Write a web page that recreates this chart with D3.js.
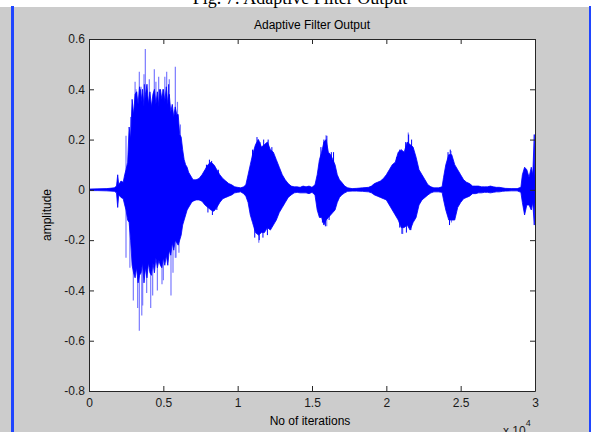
<!DOCTYPE html>
<html>
<head>
<meta charset="utf-8">
<script src="https://cdn.jsdelivr.net/npm/d3@7"></script>
<style>
  html, body { margin: 0; padding: 0; background: #cccccc; }
  svg { display: block; }
  text { font-family: "Liberation Sans", Arial, sans-serif; }
</style>
</head>
<body>
<svg id="chart" width="591" height="432"></svg>
<script>
// Envelope of the adaptive filter output: iteration, upper peak, lower peak
const envIter = [0, 600, 1200, 1700, 1850, 1930, 2000, 2150, 2300, 2400, 2490, 2600, 2700, 2800, 2900, 3000, 3100, 3200, 3300, 3400, 3500, 3600, 3700, 3800, 3900, 4000, 4100, 4200, 4300, 4400, 4500, 4600, 4700, 4800, 4900, 5000, 5100, 5200, 5300, 5400, 5500, 5600, 5700, 5800, 5900, 6000, 6100, 6200, 6300, 6400, 6500, 6600, 6700, 6800, 6900, 7000, 7200, 7400, 7600, 7800, 8000, 8200, 8400, 8600, 8800, 9000, 9200, 9400, 9600, 9800, 10000, 10200, 10400, 10550, 10700, 10850, 11000, 11200, 11400, 11600, 11800, 12000, 12200, 12400, 12600, 12800, 13000, 13200, 13400, 13600, 13800, 14000, 14200, 14400, 14600, 14800, 15000, 15200, 15350, 15500, 15650, 15800, 15950, 16100, 16250, 16400, 16550, 16700, 16850, 17000, 17200, 17400, 17700, 18000, 18400, 18800, 19000, 19200, 19400, 19600, 19800, 20000, 20200, 20400, 20600, 20800, 21000, 21200, 21400, 21600, 21800, 22000, 22200, 22400, 22600, 22800, 23000, 23200, 23500, 23750, 23850, 24000, 24200, 24400, 24600, 24800, 25000, 25200, 25400, 25600, 25800, 26000, 26200, 26400, 26600, 26800, 27000, 27200, 27400, 27600, 27800, 28000, 28400, 28800, 29050, 29150, 29300, 29450, 29600, 29750, 29850, 29950, 30000];
const envHi = [0.003, 0.004, 0.005, 0.008, 0.015, 0.06, 0.02, 0.035, 0.03, 0.06, 0.08, 0.11, 0.25, 0.2, 0.36, 0.30, 0.38, 0.39, 0.34, 0.41, 0.35, 0.40, 0.33, 0.38, 0.42, 0.34, 0.39, 0.33, 0.38, 0.40, 0.34, 0.39, 0.33, 0.40, 0.36, 0.40, 0.35, 0.41, 0.34, 0.38, 0.31, 0.34, 0.29, 0.33, 0.30, 0.30, 0.22, 0.21, 0.16, 0.12, 0.10, 0.09, 0.07, 0.06, 0.05, 0.04, 0.04, 0.045, 0.06, 0.08, 0.10, 0.11, 0.10, 0.08, 0.06, 0.045, 0.035, 0.025, 0.02, 0.012, 0.01, 0.008, 0.012, 0.02, 0.06, 0.10, 0.14, 0.18, 0.20, 0.17, 0.18, 0.19, 0.16, 0.15, 0.12, 0.09, 0.06, 0.04, 0.025, 0.015, 0.012, 0.012, 0.01, 0.015, 0.012, 0.015, 0.01, 0.02, 0.06, 0.12, 0.15, 0.19, 0.20, 0.15, 0.14, 0.12, 0.10, 0.06, 0.04, 0.03, 0.015, 0.008, 0.005, 0.006, 0.008, 0.01, 0.015, 0.025, 0.03, 0.035, 0.045, 0.06, 0.08, 0.10, 0.11, 0.15, 0.16, 0.15, 0.19, 0.18, 0.17, 0.13, 0.08, 0.06, 0.04, 0.02, 0.012, 0.008, 0.008, 0.012, 0.05, 0.10, 0.14, 0.14, 0.10, 0.08, 0.06, 0.04, 0.03, 0.025, 0.015, 0.015, 0.015, 0.012, 0.012, 0.012, 0.015, 0.012, 0.01, 0.01, 0.008, 0.006, 0.005, 0.005, 0.01, 0.06, 0.09, 0.08, 0.05, 0.09, 0.06, 0.22, 0.05];
const envLo = [-0.003, -0.003, -0.004, -0.006, -0.012, -0.07, -0.02, -0.03, -0.035, -0.06, -0.08, -0.12, -0.13, -0.2, -0.3, -0.33, -0.35, -0.31, -0.37, -0.34, -0.33, -0.29, -0.37, -0.31, -0.35, -0.29, -0.33, -0.34, -0.29, -0.33, -0.27, -0.31, -0.28, -0.30, -0.31, -0.27, -0.30, -0.26, -0.30, -0.24, -0.26, -0.21, -0.24, -0.20, -0.21, -0.22, -0.20, -0.18, -0.14, -0.12, -0.10, -0.08, -0.07, -0.06, -0.05, -0.045, -0.04, -0.04, -0.045, -0.06, -0.07, -0.08, -0.085, -0.07, -0.05, -0.035, -0.03, -0.025, -0.02, -0.012, -0.01, -0.008, -0.015, -0.025, -0.05, -0.10, -0.13, -0.17, -0.18, -0.17, -0.17, -0.15, -0.16, -0.14, -0.12, -0.09, -0.07, -0.05, -0.03, -0.02, -0.012, -0.01, -0.012, -0.012, -0.012, -0.015, -0.01, -0.02, -0.08, -0.11, -0.11, -0.14, -0.12, -0.11, -0.10, -0.09, -0.08, -0.05, -0.03, -0.02, -0.012, -0.006, -0.005, -0.005, -0.006, -0.008, -0.012, -0.02, -0.025, -0.03, -0.035, -0.04, -0.06, -0.08, -0.10, -0.12, -0.15, -0.15, -0.14, -0.16, -0.13, -0.11, -0.06, -0.04, -0.03, -0.02, -0.012, -0.008, -0.008, -0.01, -0.04, -0.08, -0.12, -0.12, -0.12, -0.07, -0.05, -0.035, -0.03, -0.025, -0.015, -0.015, -0.012, -0.012, -0.01, -0.01, -0.012, -0.01, -0.008, -0.008, -0.006, -0.005, -0.004, -0.004, -0.01, -0.05, -0.10, -0.06, -0.06, -0.08, -0.05, -0.14, -0.05];

// Isolated light peaks that reach past the dense envelope
const spikeIter = [2489, 2489, 2750, 2982, 3100, 3161, 3273, 3385, 3385, 3497, 3550, 3609, 3700, 3789, 3878, 4058, 4150, 4282, 4394, 4500, 4600, 4686, 4910, 4955, 5000, 5100, 5224, 5400, 5515, 5650, 5807, 5807, 5852, 5950, 6050, 6150, 11346, 11420, 15940, 15990, 21475, 21100, 24350, 24380];
const spikeVal  = [0.215, -0.27, -0.31, -0.44, 0.43, 0.40, -0.47, 0.47, -0.56, 0.41, -0.50, -0.46, 0.46, 0.56, -0.41, 0.44, -0.47, -0.42, 0.48, 0.43, -0.40, 0.45, -0.375, 0.40, -0.36, 0.45, 0.47, 0.44, -0.42, -0.33, 0.49, -0.27, -0.27, 0.35, -0.25, 0.26, 0.20, -0.21, 0.217, -0.145, 0.228, -0.176, 0.155, -0.13];

// Dark single-sample peaks along the edges of each burst
const peakIter = [2825, 3206, 3452, 3721, 4731, 5358, 7900, 8000, 8100, 8250, 8300, 8450, 8600, 8700, 11000, 11150, 11300, 11450, 11500, 11700, 11750, 12000, 12050, 12300, 15600, 15700, 15800, 15900, 16000, 16150, 16300, 16450, 20700, 20900, 20900, 21050, 21300, 21350, 21500, 21650, 21700, 24150, 24250, 24300];
const peakVal  = [0.29, 0.39, 0.40, 0.42, 0.40, 0.42, 0.10, -0.09, 0.12, 0.115, -0.10, 0.095, -0.08, 0.08, 0.16, -0.19, 0.21, -0.20, 0.19, -0.19, 0.20, -0.18, 0.20, 0.17, 0.17, -0.13, 0.20, -0.145, 0.215, -0.12, 0.15, 0.15, 0.13, 0.16, -0.15, -0.175, 0.19, -0.17, 0.22, -0.16, 0.20, 0.15, -0.14, 0.16];

// Axis ticks
const xTicks = [0, 5000, 10000, 15000, 20000, 25000, 30000];
const xTickLabels = ["0", "0.5", "1", "1.5", "2", "2.5", "3"];
const yTicks = [-0.8, -0.6, -0.4, -0.2, 0, 0.2, 0.4, 0.6];
const yTickLabels = ["-0.8", "-0.6", "-0.4", "-0.2", "0", "0.2", "0.4", "0.6"];

const svg = d3.select("#chart");
const W = 591, H = 432;
const padL = 89, padR = 535, padT = 39, padB = 391;

// Figure window: grey frame, white strip with caption, blue window edges
svg.append("rect").attr("x", 0).attr("y", 0).attr("width", W).attr("height", H).attr("fill", "#cccccc");
svg.append("rect").attr("x", 0).attr("y", 0).attr("width", W).attr("height", 7).attr("fill", "#ffffff");
svg.append("text")
  .attr("x", 300).attr("y", 4)
  .attr("text-anchor", "middle")
  .style("font-family", "'Liberation Serif', 'Times New Roman', serif")
  .style("font-size", "18px")
  .attr("fill", "#000")
  .text("Fig. 7: Adaptive Filter Output");
svg.append("rect").attr("x", 11).attr("y", 6).attr("width", 3).attr("height", H - 6).attr("fill", "#1f45ff");
svg.append("rect").attr("x", 589).attr("y", 6).attr("width", 2).attr("height", H - 6).attr("fill", "#1f45ff");

// Axes area
svg.append("rect").attr("x", padL).attr("y", padT).attr("width", padR - padL).attr("height", padB - padT).attr("fill", "#ffffff");

const x = d3.scaleLinear().domain([0, 30000]).range([padL, padR]);
const y = d3.scaleLinear().domain([-0.8, 0.6]).range([padB, padT]);

svg.append("defs").append("clipPath").attr("id", "plotclip")
  .append("rect").attr("x", padL).attr("y", padT).attr("width", padR - padL).attr("height", padB - padT);

const env = envIter.map((it, i) => ({ it, hi: envHi[i], lo: envLo[i] }));
const plot = svg.append("g").attr("clip-path", "url(#plotclip)");

// Light isolated peaks
plot.selectAll("line.spike")
  .data(spikeIter.map((it, i) => ({ it, v: spikeVal[i] })))
  .enter().append("line")
  .attr("class", "spike")
  .attr("x1", d => x(d.it)).attr("x2", d => x(d.it))
  .attr("y1", y(0)).attr("y2", d => y(d.v))
  .attr("stroke", "#7a7aff")
  .attr("stroke-width", 1.2);

// Dense signal body
const area = d3.area()
  .x(d => x(d.it))
  .y0(d => y(d.lo))
  .y1(d => y(d.hi));
plot.append("path")
  .datum(env)
  .attr("d", area)
  .attr("fill", "#0000ff")
  .attr("stroke", "#0000ff")
  .attr("stroke-width", 0.8)
  .attr("stroke-linejoin", "miter");

// Dark edge peaks
plot.selectAll("line.peak")
  .data(peakIter.map((it, i) => ({ it, v: peakVal[i] })))
  .enter().append("line")
  .attr("class", "peak")
  .attr("x1", d => x(d.it)).attr("x2", d => x(d.it))
  .attr("y1", y(0)).attr("y2", d => y(d.v))
  .attr("stroke", "#0000ff")
  .attr("stroke-width", 1);

// Box axes with inward ticks
const axisColor = "#262626";
function styleAxis(g) {
  g.selectAll("path.domain").attr("stroke", axisColor);
  g.selectAll(".tick line").attr("stroke", axisColor);
  g.selectAll(".tick text").attr("fill", "#1a1a1a").style("font-size", "12px").style("font-family", "'Liberation Sans', Arial, sans-serif");
}

svg.append("g").attr("transform", `translate(0,${padB})`)
  .call(d3.axisBottom(x).tickValues(xTicks).tickFormat((d, i) => xTickLabels[i]).tickSizeInner(-5).tickSizeOuter(0).tickPadding(7))
  .call(styleAxis);
svg.append("g").attr("transform", `translate(${padL},0)`)
  .call(d3.axisLeft(y).tickValues(yTicks).tickFormat((d, i) => yTickLabels[i]).tickSizeInner(-5).tickSizeOuter(0).tickPadding(4))
  .call(styleAxis);
svg.append("g").attr("transform", `translate(0,${padT})`)
  .call(d3.axisTop(x).tickValues(xTicks).tickFormat("").tickSizeInner(-5).tickSizeOuter(0))
  .call(styleAxis);
svg.append("g").attr("transform", `translate(${padR},0)`)
  .call(d3.axisRight(y).tickValues(yTicks).tickFormat("").tickSizeInner(-5).tickSizeOuter(0))
  .call(styleAxis);

// Titles
svg.append("text")
  .attr("x", (padL + padR) / 2).attr("y", 29)
  .attr("text-anchor", "middle")
  .style("font-size", "12px").attr("fill", "#000")
  .text("Adaptive Filter Output");
svg.append("text")
  .attr("x", (padL + padR) / 2 - 2).attr("y", 425)
  .attr("text-anchor", "middle")
  .style("font-size", "12px").attr("fill", "#000")
  .text("No of iterations");
svg.append("text")
  .attr("transform", `translate(51,${(padT + padB) / 2}) rotate(-90)`)
  .attr("text-anchor", "middle")
  .style("font-size", "12px").attr("fill", "#000")
  .text("amplitude");

// Exponent of the x axis
const exp = svg.append("text")
  .attr("x", 503).attr("y", 435)
  .style("font-size", "12px").attr("fill", "#1a1a1a");
exp.append("tspan").text("x 10");
exp.append("tspan").attr("dy", -9).style("font-size", "9px").text("4");
</script>
</body>
</html>
